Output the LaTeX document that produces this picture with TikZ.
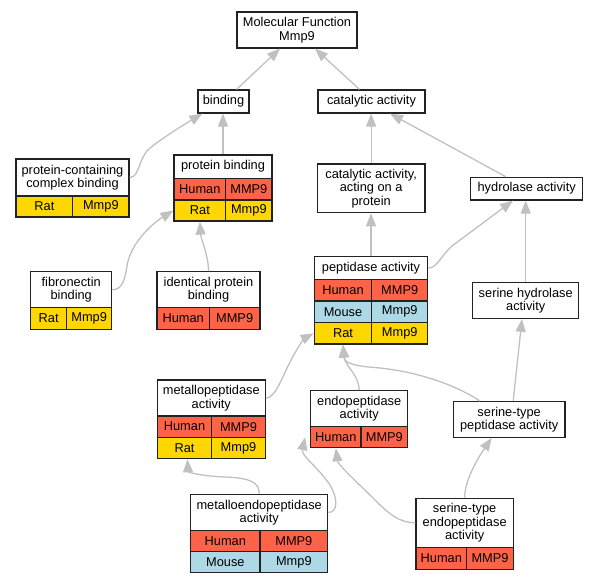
\documentclass[tikz,border=0pt]{standalone}
\usepackage{fontspec}
\setmainfont{Liberation Sans}
\usetikzlibrary{arrows.meta}
\definecolor{human}{HTML}{FF6347}
\definecolor{mouse}{HTML}{ADD8E6}
\definecolor{rat}{HTML}{FFD700}
\definecolor{edgegray}{HTML}{C0C0C0}
\definecolor{boxline}{HTML}{222222}
\tikzset{
  hdrbox/.style={draw=boxline, line width=1.2pt, fill=white, inner sep=0pt, align=center,
    font=\fontsize{12.8}{13.6}\selectfont},
  cellbox/.style={draw=boxline, line width=1.2pt, inner sep=0pt,
    font=\fontsize{12.8}{13.6}\selectfont},
  edge/.style={draw=edgegray, line width=1.3pt, -{Triangle[length=13pt,width=10pt]}},
}
\newcommand{\hdr}[6]{\node[hdrbox, minimum width={#4-#2}, minimum height={#5-#3}] (#1) at ({(#2+#4)/2},{(#3+#5)/2}) {#6};}
\newcommand{\cel}[7]{\node[cellbox, fill=#6, minimum width={#4-#2}, minimum height={#5-#3}] (#1) at ({(#2+#4)/2},{(#3+#5)/2}) {#7};}
\begin{document}
\begin{tikzpicture}[x=1pt,y=-1pt]
\useasboundingbox (0,0) rectangle (599,584);
% nodes
\hdr{mf}{237}{12}{357}{48}{Molecular Function\\Mmp9}
\hdr{bind}{198}{90}{249}{113}{binding}
\hdr{cat}{318}{90}{425}{113}{catalytic activity}
\hdr{pcc}{16}{159}{129}{196}{protein-containing\\complex binding}
\cel{pcc-r}{16}{196}{72.7}{217}{rat}{Rat}
\cel{pcc-rg}{72.7}{196}{129}{217}{rat}{Mmp9}
\hdr{pb}{174}{155}{272}{178.3}{protein binding}
\cel{pb-h}{174}{178.3}{225.7}{200}{human}{Human}
\cel{pb-hg}{225.7}{178.3}{272}{200}{human}{MMP9}
\cel{pb-r}{174}{200}{225.7}{221}{rat}{Rat}
\cel{pb-rg}{225.7}{200}{272}{221}{rat}{Mmp9}
\hdr{fib}{30.7}{271.7}{111.7}{307.7}{fibronectin\\binding}
\cel{fib-r}{30.7}{307.7}{66.7}{329.3}{rat}{Rat}
\cel{fib-rg}{66.7}{307.7}{111.7}{329.3}{rat}{Mmp9}
\hdr{ipb}{157}{271.7}{260}{307.7}{identical protein\\binding}
\cel{ipb-h}{157}{307.7}{209.3}{329.3}{human}{Human}
\cel{ipb-hg}{209.3}{307.7}{260}{329.3}{human}{MMP9}
\hdr{cap}{317.3}{164}{425}{212.7}{catalytic activity,\\acting on a\\protein}
\hdr{hyd}{470.7}{177.3}{582.7}{200}{hydrolase activity}
\hdr{pep}{314.3}{256.7}{427.7}{279.3}{peptidase activity}
\cel{pep-h}{314.3}{279.3}{371.7}{301}{human}{Human}
\cel{pep-hg}{371.7}{279.3}{427.7}{301}{human}{MMP9}
\cel{pep-m}{314.3}{301}{371.7}{322.7}{mouse}{Mouse}
\cel{pep-mg}{371.7}{301}{427.7}{322.7}{mouse}{Mmp9}
\cel{pep-r}{314.3}{322.7}{371.7}{344}{rat}{Rat}
\cel{pep-rg}{371.7}{322.7}{427.7}{344}{rat}{Mmp9}
\hdr{shyd}{472.7}{282.7}{578.7}{318.3}{serine hydrolase\\activity}
\hdr{metp}{157.3}{380}{265.3}{416}{metallopeptidase\\activity}
\cel{metp-h}{157.3}{416}{211.7}{437.3}{human}{Human}
\cel{metp-hg}{211.7}{416}{265.3}{437.3}{human}{MMP9}
\cel{metp-r}{157.3}{437.3}{211.7}{458.7}{rat}{Rat}
\cel{metp-rg}{211.7}{437.3}{265.3}{458.7}{rat}{Mmp9}
\hdr{endo}{310.7}{390.7}{407.7}{426.7}{endopeptidase\\activity}
\cel{endo-h}{310.7}{426.7}{361}{447.7}{human}{Human}
\cel{endo-hg}{361}{426.7}{407.7}{447.7}{human}{MMP9}
\hdr{stp}{453.3}{401.7}{565}{437.3}{serine-type\\peptidase activity}
\hdr{mep}{190.7}{494.3}{327.7}{530.7}{metalloendopeptidase\\activity}
\cel{mep-h}{190.7}{530.7}{260}{551.7}{human}{Human}
\cel{mep-hg}{260}{530.7}{327.7}{551.7}{human}{MMP9}
\cel{mep-m}{190.7}{551.7}{260}{572.7}{mouse}{Mouse}
\cel{mep-mg}{260}{551.7}{327.7}{572.7}{mouse}{Mmp9}
\hdr{ste}{416}{498.3}{513.3}{547.3}{serine-type\\endopeptidase\\activity}
\cel{ste-h}{416}{547.3}{466.7}{569.3}{human}{Human}
\cel{ste-hg}{466.7}{547.3}{513.3}{569.3}{human}{MMP9}
% edges
\draw[edge] ([xshift=13pt]bind.north) -- ([xshift=-17pt]mf.south);
\draw[edge] ([xshift=-12pt]cat.north) -- ([xshift=18pt]mf.south);
\draw[edge] (pb.north) -- (pb.north |- bind.south);
\draw[edge] (pcc.east) .. controls (140,177.5) and (138,158) .. (150,148) .. controls (165,136) and (190,121) .. ([xshift=5pt]bind.south west);
\draw[edge] (fib.east) .. controls (122,289.7) and (125,280) .. (127,266) .. controls (130,245) and (150,225) .. (pb-r.west);
\draw[edge] (ipb.north) .. controls (208.5,255) and (201,240) .. (pb-r.south);
\draw[edge] (cap.north) -- (cap.north |- cat.south);
\draw[edge] ([xshift=-21pt]hyd.north) -- ([xshift=18.5pt]cat.south);
\draw[edge] (pep.north) -- (pep.north |- cap.south);
\draw[edge] (pep.east) .. controls (437,268) and (440,257) .. (452,246) -- ([xshift=-13.7pt]hyd.south);
\draw[edge] (shyd.north) -- (shyd.north |- hyd.south);
\draw[edge] ([xshift=4pt]stp.north) -- ([xshift=-3.7pt]shyd.south);
\draw[edge] ([xshift=-29pt]stp.north) .. controls (462,389) and (425,372) .. (375,367.5) .. controls (352,366) and (344,362) .. (pep-r.south);
\draw[edge] (endo.north) .. controls (359.2,375) and (345,366) .. (pep-r.south);
\draw[edge] (metp.east) .. controls (275,398) and (281,380) .. (290,362) .. controls (297,348) and (305,338) .. (pep-r.west);
\draw[edge] (mep.north) .. controls (259.2,482) and (250,478) .. (225,477) .. controls (200,476) and (188,472) .. ([xshift=3pt]metp-r.south);
\draw[edge] (mep.east) .. controls (338,512.5) and (338,498) .. (330,485) .. controls (318,467) and (301,456) .. ([xshift=-5pt]endo-h.west);
\draw[edge] (ste.west) .. controls (400,522.8) and (390,515) .. (375,500) .. controls (360,485) and (338,465) .. (endo-h.south);
\draw[edge] (ste.north) .. controls (464.7,480) and (478,458) .. ([xshift=-17.5pt]stp.south);
\end{tikzpicture}
\end{document}
